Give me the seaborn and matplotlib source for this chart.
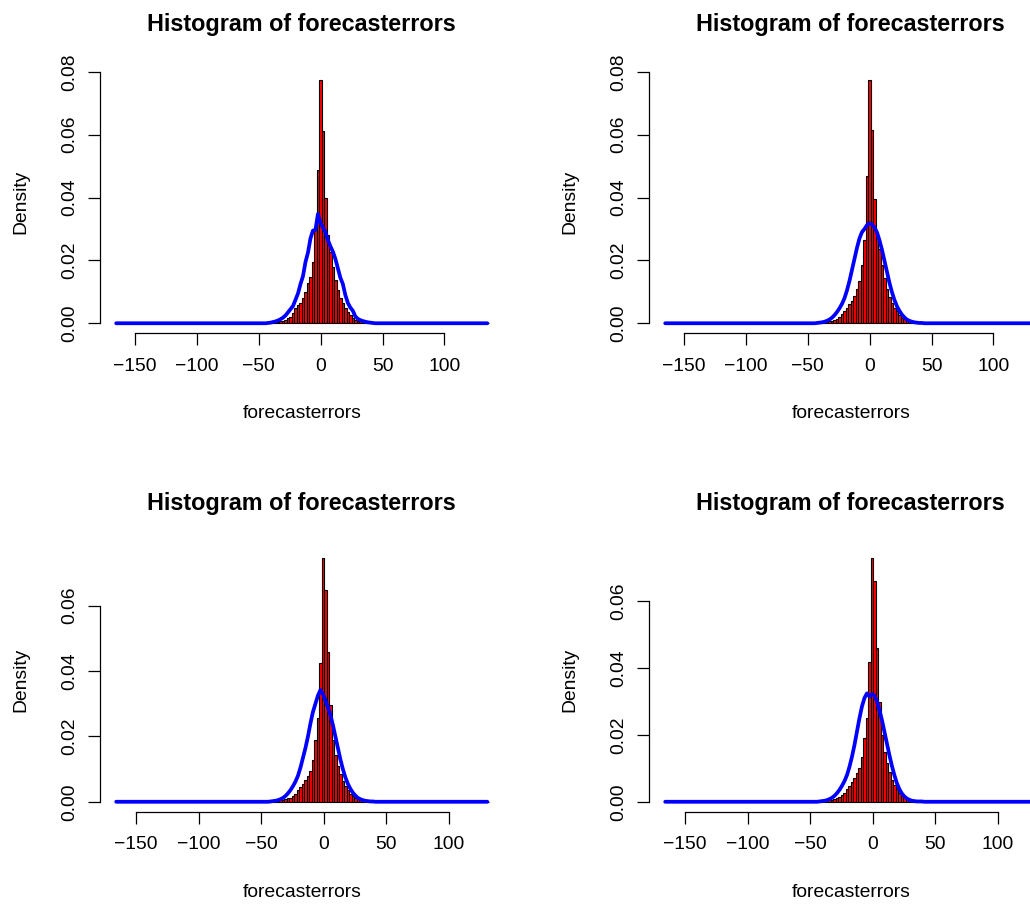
import numpy as np
import pandas as pd
import matplotlib
matplotlib.use("Agg")
import matplotlib.pyplot as plt
import seaborn as sns

sns.set_style("white")
plt.rcParams["font.family"] = ["Liberation Sans", "DejaVu Sans"]
plt.rcParams["text.color"] = "black"
plt.rcParams["axes.labelcolor"] = "black"
plt.rcParams["axes.titlecolor"] = "black"

TITLE = "Histogram of forecasterrors"
XLABEL = "forecasterrors"
YLABEL = "Density"
XTICKS = [-150, -100, -50, 0, 50, 100]
YTICKS = [0.00, 0.02, 0.04, 0.06, 0.08]

# Each panel: first break, bin width, number of bins;
# histogram densities start at bin index *_bar_k, normal-curve densities at *_line_k.

# ---- top-left panel ----
tl_breaks = (-166.3, 2.0127, 150)
tl_bar_k = 59
tl_bars = [0.0001, 0.0001, 0.0002, 0.0003, 0.0003, 0.0004, 0.0005, 0.0007, 0.0008, 0.0010,
           0.0016, 0.0021, 0.0032, 0.0048, 0.0058, 0.0064, 0.0079, 0.0100, 0.0127, 0.0148,
           0.0196, 0.0307, 0.0487, 0.0775, 0.0611, 0.0399, 0.0281, 0.0228, 0.0180, 0.0138,
           0.0106, 0.0079, 0.0064, 0.0048, 0.0037, 0.0026, 0.0016, 0.0010, 0.0008, 0.0006,
           0.0005, 0.0004, 0.0003, 0.0003, 0.0002, 0.0002, 0.0001, 0.0001, 0.0001, 0.0001]
tl_line_k = 61
tl_line = [0.0001, 0.0002, 0.0004, 0.0006, 0.0009, 0.0013, 0.0018, 0.0025, 0.0035, 0.0045,
           0.0055, 0.0075, 0.0095, 0.0125, 0.0150, 0.0195, 0.0225, 0.0270, 0.0295, 0.0297,
           0.0348, 0.0320, 0.0305, 0.0290, 0.0265, 0.0245, 0.0228, 0.0205, 0.0175, 0.0145,
           0.0125, 0.0090, 0.0065, 0.0050, 0.0040, 0.0022, 0.0014, 0.0010, 0.0007, 0.0005,
           0.0003, 0.0002, 0.0001]

# ---- top-right panel ----
tr_breaks = (-166.3, 2.0127, 150)
tr_bar_k = 59
tr_bars = [0.0001, 0.0001, 0.0002, 0.0002, 0.0003, 0.0004, 0.0005, 0.0006, 0.0008, 0.0010,
           0.0014, 0.0020, 0.0028, 0.0040, 0.0050, 0.0060, 0.0072, 0.0088, 0.0108, 0.0135,
           0.0185, 0.0265, 0.0469, 0.0775, 0.0614, 0.0397, 0.0290, 0.0235, 0.0185, 0.0145,
           0.0110, 0.0085, 0.0066, 0.0050, 0.0038, 0.0027, 0.0018, 0.0012, 0.0009, 0.0007,
           0.0005, 0.0004, 0.0003, 0.0003, 0.0002, 0.0002, 0.0001, 0.0001, 0.0001, 0.0001]
tr_line_k = 61
tr_line = [0.0001, 0.0002, 0.0003, 0.0005, 0.0008, 0.0012, 0.0018, 0.0026, 0.0036, 0.0048,
           0.0062, 0.0080, 0.0105, 0.0135, 0.0170, 0.0205, 0.0240, 0.0270, 0.0290, 0.0300,
           0.0312, 0.0318, 0.0315, 0.0305, 0.0290, 0.0265, 0.0235, 0.0200, 0.0165, 0.0130,
           0.0100, 0.0075, 0.0055, 0.0040, 0.0028, 0.0019, 0.0012, 0.0008, 0.0005, 0.0003,
           0.0002, 0.0001, 0.0001]

# ---- bottom-left panel ----
bl_breaks = (-166.9, 1.993, 150)
bl_bar_k = 60
bl_bars = [0.0001, 0.0001, 0.0002, 0.0002, 0.0003, 0.0004, 0.0005, 0.0006, 0.0008, 0.0010,
           0.0013, 0.0018, 0.0025, 0.0035, 0.0045, 0.0055, 0.0068, 0.0080, 0.0095, 0.0128,
           0.0189, 0.0255, 0.0423, 0.0745, 0.0648, 0.0459, 0.0296, 0.0189, 0.0143, 0.0110,
           0.0085, 0.0062, 0.0048, 0.0036, 0.0025, 0.0018, 0.0012, 0.0009, 0.0007, 0.0005,
           0.0004, 0.0003, 0.0003, 0.0002, 0.0002, 0.0001, 0.0001, 0.0001]
bl_line_k = 62
bl_line = [0.0001, 0.0002, 0.0003, 0.0005, 0.0008, 0.0012, 0.0018, 0.0026, 0.0036, 0.0048,
           0.0062, 0.0080, 0.0105, 0.0135, 0.0165, 0.0200, 0.0240, 0.0275, 0.0300, 0.0325,
           0.0342, 0.0330, 0.0310, 0.0290, 0.0265, 0.0235, 0.0200, 0.0165, 0.0130, 0.0100,
           0.0075, 0.0055, 0.0040, 0.0028, 0.0019, 0.0012, 0.0008, 0.0005, 0.0003, 0.0002,
           0.0001, 0.0001]

# ---- bottom-right panel ----
br_breaks = (-166.9, 1.993, 150)
br_bar_k = 60
br_bars = [0.0001, 0.0001, 0.0002, 0.0002, 0.0003, 0.0004, 0.0005, 0.0006, 0.0008, 0.0010,
           0.0014, 0.0020, 0.0027, 0.0037, 0.0048, 0.0058, 0.0070, 0.0085, 0.0100, 0.0135,
           0.0190, 0.0251, 0.0419, 0.0728, 0.0661, 0.0461, 0.0299, 0.0200, 0.0150, 0.0115,
           0.0088, 0.0065, 0.0050, 0.0038, 0.0027, 0.0019, 0.0013, 0.0009, 0.0007, 0.0005,
           0.0004, 0.0003, 0.0003, 0.0002, 0.0002, 0.0001, 0.0001, 0.0001]
br_line_k = 62
br_line = [0.0001, 0.0002, 0.0003, 0.0005, 0.0008, 0.0012, 0.0018, 0.0026, 0.0036, 0.0048,
           0.0062, 0.0080, 0.0105, 0.0135, 0.0170, 0.0210, 0.0250, 0.0285, 0.0310, 0.0324,
           0.0315, 0.0322, 0.0318, 0.0300, 0.0275, 0.0245, 0.0210, 0.0175, 0.0140, 0.0108,
           0.0080, 0.0056, 0.0038, 0.0025, 0.0016, 0.0010, 0.0006, 0.0003, 0.0002, 0.0001,
           0.0001, 0.0001]

TICK_FS = 13.9
TITLE_FS = 16.8


def spread(n, k0, values):
    out = np.zeros(n)
    out[k0:k0 + len(values)] = values
    return out


def panel(ax, breaks_spec, bar_k, bars, line_k, line):
    lo, width, n = breaks_spec
    breaks = lo + width * np.arange(n + 1)
    mids = (breaks[:-1] + breaks[1:]) / 2
    df = pd.DataFrame({"mid": mids,
                       "density": spread(n, bar_k, bars),
                       "normal": spread(n, line_k, line)})

    sns.histplot(data=df, x="mid", weights="density", bins=list(breaks),
                 stat="count", color="#ff0000", edgecolor="black",
                 linewidth=0.8, alpha=1.0, ax=ax)
    sns.lineplot(data=df, x="mid", y="normal", color="#0000ff", linewidth=2.7,
                 sort=False, estimator=None, ax=ax)

    span = breaks[-1] - breaks[0]
    ax.set_xlim(breaks[0] - 0.04 * span, breaks[-1] + 0.04 * span)
    top = df["density"].max()
    ax.set_ylim(-0.04 * top, 1.04 * top)

    yt = [t for t in YTICKS if t <= 1.04 * top]
    ax.set_xticks(XTICKS)
    ax.set_xticklabels([str(t) if t >= 0 else "\u2212" + str(-t) for t in XTICKS])
    ax.set_yticks(yt)
    ax.set_yticklabels([f"{t:.2f}" for t in yt])

    for s in ("top", "right"):
        ax.spines[s].set_visible(False)
    for s in ("left", "bottom"):
        ax.spines[s].set_color("black")
        ax.spines[s].set_linewidth(0.9)
    ax.spines["bottom"].set_bounds(XTICKS[0], XTICKS[-1])
    ax.spines["left"].set_bounds(yt[0], yt[-1])

    ax.tick_params(axis="both", direction="out", length=8.3, width=0.9,
                   color="black", labelsize=TICK_FS, labelcolor="black")
    ax.tick_params(axis="x", pad=9.5, bottom=True)
    ax.tick_params(axis="y", pad=7.5, left=True)
    for t in ax.get_yticklabels():
        t.set_rotation(90)
        t.set_va("center")

    ax.set_title(TITLE, fontsize=TITLE_FS, fontweight="bold", y=1.148, pad=0,
                 color="black")
    ax.set_xlabel(XLABEL, fontsize=TICK_FS, color="black")
    ax.set_ylabel(YLABEL, fontsize=TICK_FS, color="black")
    ax.xaxis.set_label_coords(0.5, -0.274)
    ax.yaxis.set_label_coords(-0.176, 0.5)
    ax.grid(False)
    ax.set_facecolor("white")


W, H = 1030, 909
fig = plt.figure(figsize=(W / 100, H / 100), dpi=100)
fig.patch.set_facecolor("white")


def add_axes(left, top, width=403.5, height=263.0):
    return fig.add_axes([left / W, (H - top - height) / H, width / W, height / H])


ax_tl = add_axes(100, 70)
ax_tr = add_axes(649, 70)
ax_bl = add_axes(100, 548.5)
ax_br = add_axes(649, 548.5)

panel(ax_tl, tl_breaks, tl_bar_k, tl_bars, tl_line_k, tl_line)
panel(ax_tr, tr_breaks, tr_bar_k, tr_bars, tr_line_k, tr_line)
panel(ax_bl, bl_breaks, bl_bar_k, bl_bars, bl_line_k, bl_line)
panel(ax_br, br_breaks, br_bar_k, br_bars, br_line_k, br_line)

fig.savefig("out.png", dpi=100, facecolor="white")
